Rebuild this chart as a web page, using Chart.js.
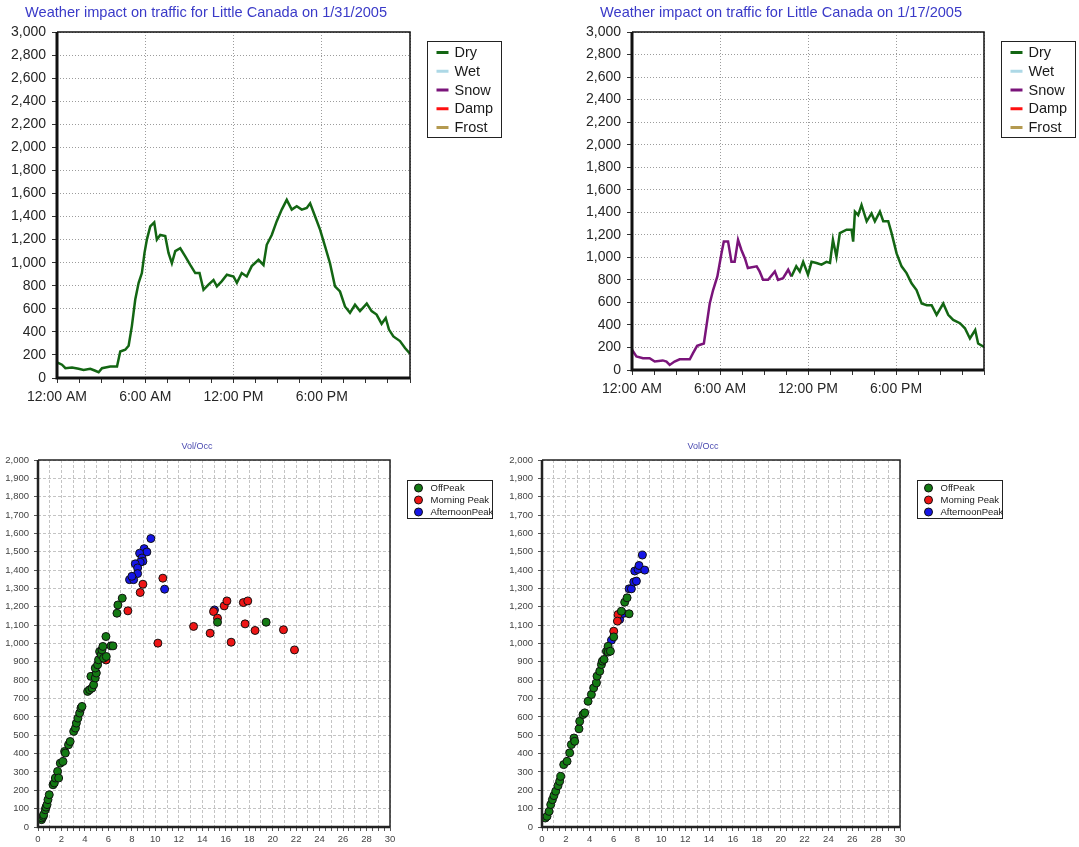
<!DOCTYPE html>
<html>
<head>
<meta charset="utf-8">
<script src="https://cdn.jsdelivr.net/npm/chart.js@4.4.1/dist/chart.umd.min.js"></script>
<style>
  html, body { margin: 0; padding: 0; background: #fff; }
  body { width: 1079px; height: 847px; position: relative; overflow: hidden; }
  canvas { position: absolute; }
</style>
</head>
<body>
<canvas id="trafficJan31" width="540" height="415" style="left:0;top:0"></canvas>
<canvas id="trafficJan17" width="539" height="415" style="left:540px;top:0"></canvas>
<canvas id="volOccJan31" width="500" height="417" style="left:0;top:430px"></canvas>
<canvas id="volOccJan17" width="579" height="417" style="left:500px;top:430px"></canvas>
<script>
// --- data ---
const weatherNames = ['Dry', 'Wet', 'Snow', 'Damp', 'Frost'];
const weatherColors = ['#136613', '#add8e6', '#7a147a', '#ff1010', '#b49a50'];
const hourTickLabels = ['12:00 AM', '6:00 AM', '12:00 PM', '6:00 PM'];

// 1/31/2005 - all dry
const dryHoursJan31 = [0, 0.34, 0.57, 1.02, 1.47, 1.81, 2.26, 2.56, 2.83, 3.06, 3.62, 4.08, 4.3, 4.64, 4.87,
  5.09, 5.32, 5.55, 5.77, 5.95, 6.11, 6.34, 6.61, 6.79, 7.02, 7.36, 7.58, 7.81, 8.04, 8.38, 8.72, 9.06,
  9.4, 9.69, 9.96, 10.3, 10.64, 10.87, 11.21, 11.55, 12.0, 12.23, 12.56, 12.9, 13.24, 13.7, 14.04, 14.26,
  14.6, 14.94, 15.28, 15.62, 15.96, 16.3, 16.64, 16.98, 17.21, 17.55, 17.89, 18.23, 18.56, 18.9, 19.24,
  19.58, 19.92, 20.26, 20.6, 21.06, 21.39, 21.73, 22.07, 22.35, 22.57, 22.87, 23.32, 23.66, 24];
const dryVolJan31 = [135, 115, 85, 90, 80, 70, 80, 65, 50, 85, 100, 100, 230, 245, 280,
  450, 680, 825, 910, 1085, 1200, 1315, 1350, 1200, 1240, 1230, 1085, 995, 1100, 1125, 1055, 980,
  910, 910, 765, 810, 850, 795, 840, 895, 880, 825, 910, 880, 970, 1025, 980, 1155,
  1240, 1360, 1460, 1545, 1460, 1490, 1460, 1475, 1515, 1400, 1285, 1140, 995, 795, 750,
  620, 565, 635, 580, 645, 580, 550, 470, 520, 420, 360, 320, 260, 210];

// 1/17/2005 - snow in the morning, dry afterwards
const snowHoursJan17 = [0, 0.3, 0.75, 1.2, 1.55, 2.1, 2.35, 2.57, 2.9, 3.25, 3.94, 4.16, 4.44, 4.9, 5.07,
  5.3, 5.53, 5.82, 6.1, 6.26, 6.55, 6.78, 7.0, 7.23, 7.46, 7.7, 7.9, 8.5, 8.7, 8.94, 9.28, 9.74, 9.96,
  10.3, 10.65, 10.87];
const snowVolJan17 = [180, 120, 105, 105, 75, 85, 75, 45, 75, 95, 95, 150, 215, 235, 385,
  590, 710, 830, 1035, 1140, 1140, 960, 960, 1155, 1065, 990, 905, 920, 875, 800, 800, 875, 800,
  815, 890, 830];
const dryHoursJan17 = [10.87, 11.2, 11.44, 11.67, 12.0, 12.24, 12.58, 12.92, 13.26, 13.5, 13.7, 13.94,
  14.17, 14.63, 14.97, 15.08, 15.2, 15.42, 15.65, 16.0, 16.33, 16.56, 16.9, 17.13, 17.47, 17.7, 18.04,
  18.38, 18.72, 19.06, 19.4, 19.75, 20.1, 20.43, 20.77, 21.22, 21.56, 21.9, 22.36, 22.7, 23.04, 23.4,
  23.6, 24];
const dryVolJan17 = [830, 920, 875, 960, 845, 960, 950, 935, 960, 950, 1155, 1005,
  1215, 1245, 1245, 1140, 1405, 1375, 1465, 1320, 1390, 1320, 1405, 1320, 1320, 1215, 1035,
  920, 860, 770, 710, 590, 575, 575, 490, 590, 490, 445, 415, 370, 280, 355,
  235, 205];

// Vol/Occ scatter
const peakNames = ['OffPeak', 'Morning Peak', 'AfternoonPeak'];
const peakColors = ['#137a13', '#ee1515', '#1515e6'];

const offPeakOccJan31 = [0.3, 0.34, 0.45, 0.48, 0.62, 0.68, 0.77, 0.85, 0.96, 1.28, 1.39, 1.48, 1.67, 1.76,
  1.9, 2.13, 2.27, 2.33, 2.6, 2.74, 3.04, 3.19, 3.27, 3.4, 3.55, 3.66, 3.75, 4.23, 4.4, 4.51, 4.6, 4.74,
  4.88, 4.97, 4.88, 5.08, 5.16, 5.25, 5.39, 5.45, 5.53, 5.59, 5.82, 5.79, 6.22, 6.39, 6.73, 6.81, 7.18,
  15.3, 19.44];
const offPeakVolJan31 = [40, 49, 58, 67, 94, 108, 122, 149, 176, 230, 240, 267, 303, 267,
  348, 357, 412, 403, 448, 466, 521, 539, 566, 593, 621, 648, 657, 739, 748, 821, 757, 775,
  812, 839, 866, 884, 911, 956, 938, 965, 984, 920, 929, 1038, 987, 987, 1165, 1210, 1247,
  1116, 1116];
const morningOccJan31 = [5.8, 7.66, 8.71, 8.94, 10.64, 10.22, 13.26, 14.67, 14.96, 15.3, 15.87, 16.1,
  16.46, 17.5, 17.88, 17.65, 18.5, 20.92, 21.86];
const morningVolJan31 = [910, 1178, 1278, 1323, 1356, 1002, 1093, 1056, 1174, 1138, 1205, 1232,
  1007, 1223, 1232, 1107, 1071, 1075, 965];
const afternoonOccJan31 = [9.62, 9.05, 9.28, 8.66, 8.86, 8.94, 8.71, 8.29, 8.49, 8.49, 7.8, 8.15, 8.0,
  10.79, 15.04];
const afternoonVolJan31 = [1572, 1517, 1499, 1492, 1466, 1448, 1443, 1434, 1412, 1381, 1348, 1348, 1366,
  1296, 1183];

const offPeakOccJan17 = [0.28, 0.42, 0.59, 0.73, 0.87, 1.0, 1.15, 1.34, 1.48, 1.57, 1.82, 2.1, 2.32, 2.46,
  2.68, 2.74, 3.1, 3.16, 3.44, 3.58, 3.86, 4.14, 4.33, 4.56, 4.61, 4.84, 4.98, 5.06, 5.2, 5.4, 5.54,
  5.54, 5.73, 6.01, 6.65, 6.93, 7.13, 7.3];
const offPeakVolJan17 = [49, 58, 85, 122, 149, 171, 195, 225, 249, 276, 340, 358, 404, 449,
  485, 467, 535, 576, 613, 622, 685, 722, 758, 785, 822, 849, 885, 904, 913, 958, 985,
  953, 958, 1036, 1176, 1225, 1249, 1162];
const morningOccJan17 = [6.01, 6.37, 6.32];
const morningVolJan17 = [1067, 1158, 1122];
const afternoonOccJan17 = [5.82, 6.51, 6.79, 7.3, 7.49, 7.69, 7.91, 7.77, 8.05, 8.13, 8.41, 8.61];
const afternoonVolJan17 = [1018, 1131, 1164, 1298, 1298, 1335, 1340, 1395, 1404, 1425, 1482, 1400];

const FONT = "'Liberation Sans', Arial, sans-serif";

const pairs = (xs, ys) => xs.map((x, i) => ({ x: x, y: ys[i] }));

// --- plugins ---
// title drawn at a fixed spot relative to the plot area
const headerPlugin = {
  id: 'header',
  afterDraw(chart, args, o) {
    const { ctx, chartArea } = chart;
    ctx.save();
    ctx.font = o.size + 'px ' + FONT;
    ctx.fillStyle = o.color;
    ctx.textAlign = o.align;
    ctx.textBaseline = 'middle';
    ctx.fillText(o.text, chartArea.left + o.dx, o.y);
    ctx.restore();
  }
};

// black frame: heavy left/bottom, light top/right
const framePlugin = {
  id: 'frame',
  afterDatasetsDraw(chart, args, o) {
    const { ctx, chartArea: a } = chart;
    ctx.save();
    ctx.strokeStyle = o.color;
    ctx.lineWidth = o.thin;
    ctx.beginPath();
    ctx.moveTo(a.left, a.top);
    ctx.lineTo(a.right, a.top);
    ctx.lineTo(a.right, a.bottom);
    ctx.stroke();
    ctx.lineWidth = o.thick;
    ctx.beginPath();
    ctx.moveTo(a.left, a.top);
    ctx.lineTo(a.left, a.bottom);
    ctx.lineTo(a.right, a.bottom);
    ctx.stroke();
    ctx.restore();
  }
};

// boxed legend to the right of the plot
const boxLegendPlugin = {
  id: 'boxLegend',
  afterDraw(chart, args, o) {
    const { ctx, chartArea: a } = chart;
    const x0 = Math.round(a.right + o.dx) + 0.5;
    const y0 = Math.round(a.top + o.dy) + 0.5;
    ctx.save();
    ctx.strokeStyle = '#222';
    ctx.lineWidth = 1;
    ctx.strokeRect(x0, y0, o.width, o.height);
    ctx.font = o.size + 'px ' + FONT;
    ctx.textBaseline = 'middle';
    ctx.textAlign = 'left';
    chart.data.datasets.forEach((ds, i) => {
      const cy = y0 + o.first + i * o.gap;
      if (o.marker === 'line') {
        ctx.strokeStyle = ds.borderColor;
        ctx.lineWidth = 3;
        ctx.beginPath();
        ctx.moveTo(x0 + o.markX, cy);
        ctx.lineTo(x0 + o.markX + 12, cy);
        ctx.stroke();
      } else {
        ctx.fillStyle = ds.backgroundColor;
        ctx.strokeStyle = '#111';
        ctx.lineWidth = 1;
        ctx.beginPath();
        ctx.arc(x0 + o.markX, cy, 4, 0, Math.PI * 2);
        ctx.fill();
        ctx.stroke();
      }
      ctx.fillStyle = o.textColor;
      ctx.fillText(ds.label, x0 + o.textX, cy + 0.5);
    });
    ctx.restore();
  }
};

// --- builders ---
function trafficChart(id, title, seriesByName, area) {
  const canvas = document.getElementById(id);
  const W = canvas.width, H = canvas.height;
  const datasets = weatherNames.map((name, i) => ({
    label: name,
    data: seriesByName[name] || [],
    borderColor: weatherColors[i],
    backgroundColor: weatherColors[i],
    borderWidth: 2.5,
    pointRadius: 0,
    tension: 0,
    fill: false
  }));
  return new Chart(canvas, {
    type: 'line',
    data: { datasets: datasets },
    options: {
      responsive: false,
      animation: false,
      parsing: false,
      layout: { padding: { left: 0, top: area.top, right: W - area.right, bottom: 0 } },
      scales: {
        x: {
          type: 'linear', min: 0, max: 24,
          afterFit: s => { s.height = H - area.bottom; },
          ticks: {
            stepSize: 1.5, autoSkip: false, maxRotation: 0, padding: 6,
            color: '#262626', font: { family: FONT, size: 14 },
            callback: v => (v % 6 === 0 && v < 24) ? hourTickLabels[v / 6] : ''
          },
          grid: {
            color: c => (c.tick && c.tick.value % 6 === 0) ? '#9c9c9c' : 'rgba(0,0,0,0)',
            tickColor: '#333', tickLength: 5, lineWidth: 1
          },
          border: { display: false, dash: [1, 2] }
        },
        y: {
          min: 0, max: 3000,
          afterFit: s => { s.width = area.left; },
          ticks: { stepSize: 200, padding: 6, color: '#262626', font: { family: FONT, size: 14 } },
          grid: { color: '#9c9c9c', tickColor: '#333', tickLength: 5, lineWidth: 1 },
          border: { display: false, dash: [1, 2] }
        }
      },
      plugins: {
        legend: { display: false },
        tooltip: { enabled: false },
        header: { text: title, dx: -32, y: 13, size: 14.6, color: '#3a3ac8', align: 'left' },
        frame: { color: '#111', thin: 1.5, thick: 3 },
        boxLegend: { marker: 'line', dx: 17, dy: 9, width: 74, height: 96, first: 11, gap: 18.75,
          markX: 9, textX: 27, size: 14.5, textColor: '#1a1a1a' }
      }
    },
    plugins: [headerPlugin, framePlugin, boxLegendPlugin]
  });
}

function volOccChart(id, series, area) {
  const canvas = document.getElementById(id);
  const W = canvas.width, H = canvas.height;
  const datasets = peakNames.map((name, i) => ({
    label: name,
    data: series[i],
    backgroundColor: peakColors[i],
    borderColor: '#111',
    borderWidth: 1,
    pointRadius: 4,
    pointHoverRadius: 4
  }));
  return new Chart(canvas, {
    type: 'scatter',
    data: { datasets: datasets },
    options: {
      responsive: false,
      animation: false,
      layout: { padding: { left: 0, top: area.top, right: W - area.right, bottom: 0 } },
      scales: {
        x: {
          type: 'linear', min: 0, max: 30,
          afterFit: s => { s.height = H - area.bottom; },
          ticks: {
            stepSize: 0.5, autoSkip: false, maxRotation: 0, padding: 3,
            color: '#444', font: { family: FONT, size: 9.5 },
            callback: v => (v % 2 === 0) ? String(v) : ''
          },
          grid: {
            color: c => (c.tick && c.tick.value % 1 === 0) ? '#c4c4c4' : 'rgba(0,0,0,0)',
            tickColor: '#555', tickLength: 4, lineWidth: 1
          },
          border: { display: false, dash: [3, 2] }
        },
        y: {
          min: 0, max: 2000,
          afterFit: s => { s.width = area.left; },
          ticks: { stepSize: 100, padding: 5, color: '#444', font: { family: FONT, size: 9.5 } },
          grid: { color: '#c4c4c4', tickColor: '#555', tickLength: 4, lineWidth: 1 },
          border: { display: false, dash: [3, 2] }
        }
      },
      plugins: {
        legend: { display: false },
        tooltip: { enabled: false },
        header: { text: 'Vol/Occ', dx: area.titleDx, y: 17, size: 9, color: '#4a4ab0', align: 'center' },
        frame: { color: '#222', thin: 1.5, thick: 2.5 },
        boxLegend: { marker: 'dot', dx: 17, dy: 20, width: 85, height: 38, first: 7.5, gap: 12,
          markX: 11, textX: 23, size: 9.5, textColor: '#1a1a1a' }
      }
    },
    plugins: [headerPlugin, framePlugin, boxLegendPlugin]
  });
}

// --- charts ---
trafficChart('trafficJan31', 'Weather impact on traffic for Little Canada on 1/31/2005',
  { Dry: pairs(dryHoursJan31, dryVolJan31) },
  { left: 57, top: 32, right: 410, bottom: 378 });

trafficChart('trafficJan17', 'Weather impact on traffic for Little Canada on 1/17/2005',
  { Dry: pairs(dryHoursJan17, dryVolJan17), Snow: pairs(snowHoursJan17, snowVolJan17) },
  { left: 92, top: 32, right: 444, bottom: 370 });

volOccChart('volOccJan31', [
  pairs(offPeakOccJan31, offPeakVolJan31),
  pairs(morningOccJan31, morningVolJan31),
  pairs(afternoonOccJan31, afternoonVolJan31)
], { left: 38, top: 30, right: 390, bottom: 397, titleDx: 159 });

volOccChart('volOccJan17', [
  pairs(offPeakOccJan17, offPeakVolJan17),
  pairs(morningOccJan17, morningVolJan17),
  pairs(afternoonOccJan17, afternoonVolJan17)
], { left: 42, top: 30, right: 400, bottom: 397, titleDx: 161 });
</script>
</body>
</html>
